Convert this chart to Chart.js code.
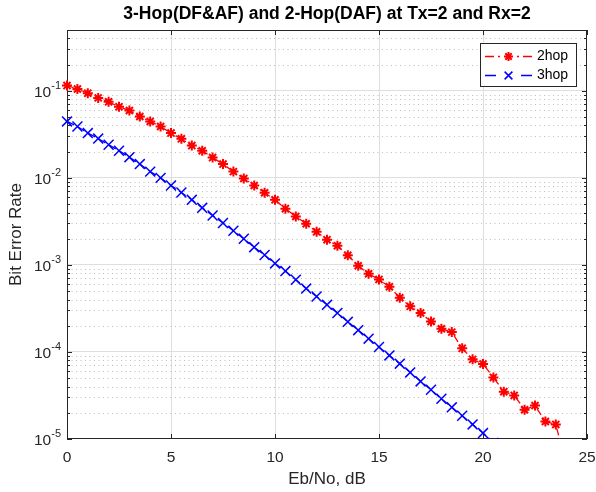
<!DOCTYPE html>
<html><head><meta charset="utf-8">
<script src="https://cdn.jsdelivr.net/npm/chart.js@4/dist/chart.umd.min.js"></script>
<style>html,body{margin:0;padding:0;background:#fff}#wrap{width:596px;height:492px;position:relative}</style>
</head><body><div id="wrap"><canvas id="c" width="596" height="492"></canvas></div>
<script>
const FONT = "'Liberation Sans', Arial, Helvetica, sans-serif";
const titleText = '3-Hop(DF&AF) and 2-Hop(DAF) at Tx=2 and Rx=2';
const xLabel = 'Eb/No, dB';
const yLabel = 'Bit Error Rate';
const seriesNames = ['2hop', '3hop'];

const ebno2hop = [0,0.5,1,1.5,2,2.5,3,3.5,4,4.5,5,5.5,6,6.5,7,7.5,8,8.5,9,9.5,10,10.5,11,11.5,12,12.5,13,13.5,14,14.5,15,15.5,16,16.5,17,17.5,18,18.5,19,19.5,20,20.5,21,21.5,22,22.5,23,23.5,24];
const ber2hop = [0.115,0.105,0.094,0.083,0.0748,0.0655,0.0594,0.0507,0.0445,0.0389,
  0.0327,0.0281,0.0235,0.0205,0.0171,0.0144,0.0118,0.00984,0.00818,0.00675,
  0.0056,0.00443,0.00361,0.00297,0.0024,0.00195,0.00166,0.00129,0.000978,0.000791,
  0.000681,0.000561,0.00042,0.000334,0.00028,0.000224,0.000185,0.000169,0.00011,0.0000822,
  0.0000728,0.000051,0.000035,0.0000317,0.0000217,0.0000242,0.0000159,0.0000147,0.000005];

const ebno3hop = [0,0.5,1,1.5,2,2.5,3,3.5,4,4.5,5,5.5,6,6.5,7,7.5,8,8.5,9,9.5,10,10.5,11,11.5,12,12.5,13,13.5,14,14.5,15,15.5,16,16.5,17,17.5,18,18.5,19,19.5,20,20.5];
const ber3hop = [0.0445,0.0389,0.0327,0.0283,0.024,0.0205,0.0173,0.0144,0.0118,0.01,
  0.00818,0.0068,0.0056,0.00453,0.0037,0.00303,0.00247,0.002,0.0016,0.0013,
  0.00104,0.00085,0.000676,0.000535,0.000434,0.000348,0.00028,0.000222,0.000178,0.000142,
  0.000114,0.0000912,0.0000733,0.0000582,0.0000459,0.0000368,0.000029,0.0000231,0.0000185,0.0000147,
  0.0000117,0.000009];

const xTickValues = [0,5,10,15,20,25];
const yTickValues = [1e-5,1e-4,1e-3,1e-2,1e-1];
const yTickBase = '10';
const yTickExponents = ['-5','-4','-3','-2','-1'];
const yMinorMultipliers = [2,3,4,5,6,7,8,9];

const AXIS_COLOR = '#262626';
const GRID_COLOR = '#dedede';
const MINOR_COLOR = '#bdbdbd';
const TICK_SIZE = 15.5;

function toPoints(xs, ys){ return xs.map((x,i)=>({x:x, y:ys[i]})); }

const styles = [
  {color:'#ff0000', dash:[7,3,2,3], point:'star', radius:5, pw:2,
   legendSegs:[[485,494],[498,500],[517,519],[523,532]]},
  {color:'#0000ff', dash:[8,4], point:'crossRot', radius:7, pw:1.5,
   legendSegs:[[485,496],[521,532]]}
];

function drawMarker(ctx, type, x, y, r){
  ctx.beginPath();
  if (type === 'star') {
    ctx.moveTo(x - r, y); ctx.lineTo(x + r, y);
    ctx.moveTo(x, y - r); ctx.lineTo(x, y + r);
  }
  const d = r * Math.SQRT1_2;
  ctx.moveTo(x - d, y - d); ctx.lineTo(x + d, y + d);
  ctx.moveTo(x - d, y + d); ctx.lineTo(x + d, y - d);
  ctx.stroke();
}

const axesPlugin = {
  id: 'matlabAxes',
  beforeDatasetsDraw(chart){
    const {ctx, chartArea: a, scales: {x, y}} = chart;
    ctx.save();
    ctx.strokeStyle = MINOR_COLOR; ctx.lineWidth = 1; ctx.setLineDash([1,3.5]);
    for (const e of yTickValues) {
      for (const m of yMinorMultipliers) {
        const v = m * e;
        if (v >= y.max) continue;
        const py = Math.round(y.getPixelForValue(v)) + 0.5;
        ctx.beginPath(); ctx.moveTo(a.left, py); ctx.lineTo(a.right, py); ctx.stroke();
      }
    }
    ctx.setLineDash([]);
    ctx.strokeStyle = AXIS_COLOR; ctx.lineWidth = 1;
    ctx.strokeRect(a.left + 0.5, a.top + 0.5, a.right - a.left - 1, a.bottom - a.top - 1);
    ctx.beginPath();
    for (const v of xTickValues) {
      const px = Math.round(x.getPixelForValue(v)) + 0.5;
      ctx.moveTo(px, a.bottom); ctx.lineTo(px, a.bottom - 5);
      ctx.moveTo(px, a.top); ctx.lineTo(px, a.top + 5);
    }
    for (const e of yTickValues) {
      const py = Math.round(y.getPixelForValue(e)) + 0.5;
      ctx.moveTo(a.left, py); ctx.lineTo(a.left + 5, py);
      ctx.moveTo(a.right, py); ctx.lineTo(a.right - 5, py);
      for (const m of yMinorMultipliers) {
        const v = m * e;
        if (v >= y.max) continue;
        const q = Math.round(y.getPixelForValue(v)) + 0.5;
        ctx.moveTo(a.left, q); ctx.lineTo(a.left + 3, q);
        ctx.moveTo(a.right, q); ctx.lineTo(a.right - 3, q);
      }
    }
    ctx.stroke();
    ctx.fillStyle = AXIS_COLOR;
    ctx.textAlign = 'left';
    yTickValues.forEach((v, i) => {
      const py = y.getPixelForValue(v);
      ctx.font = '11px ' + FONT;
      const ew = ctx.measureText(yTickExponents[i]).width;
      ctx.font = TICK_SIZE + 'px ' + FONT;
      const bw = ctx.measureText(yTickBase).width;
      const right = a.left - 6;
      ctx.textBaseline = 'middle';
      ctx.fillText(yTickBase, right - ew - bw, py + 2);
      ctx.font = '11px ' + FONT;
      ctx.fillText(yTickExponents[i], right - ew, py - 5);
    });
    ctx.restore();
  },
  afterDraw(chart){
    const ctx = chart.ctx;
    const bx = 480, by = 43, bw = 96, bh = 43;
    ctx.save();
    ctx.fillStyle = '#fff';
    ctx.fillRect(bx, by, bw, bh);
    ctx.strokeStyle = AXIS_COLOR; ctx.lineWidth = 1;
    ctx.strokeRect(bx + 0.5, by + 0.5, bw, bh);
    const rows = [56, 75];
    chart.data.datasets.forEach((ds, i) => {
      const st = styles[i];
      const yy = rows[i] + 0.5;
      ctx.strokeStyle = st.color; ctx.lineWidth = 1.3;
      ctx.beginPath();
      st.legendSegs.forEach(s => { ctx.moveTo(s[0], yy); ctx.lineTo(s[1], yy); });
      ctx.stroke();
      ctx.lineWidth = st.pw;
      drawMarker(ctx, st.point, 508.5, yy, st.point === 'star' ? 4.5 : 5.5);
      ctx.fillStyle = '#000';
      ctx.font = '14px ' + FONT;
      ctx.textBaseline = 'middle'; ctx.textAlign = 'left';
      ctx.fillText(ds.label, 537, yy);
    });
    ctx.restore();
  }
};

new Chart(document.getElementById('c'), {
  type: 'line',
  data: {
    datasets: [
      { label: seriesNames[0], data: toPoints(ebno2hop, ber2hop) },
      { label: seriesNames[1], data: toPoints(ebno3hop, ber3hop) }
    ].map((d, i) => Object.assign(d, {
      borderColor: styles[i].color, backgroundColor: styles[i].color,
      borderWidth: 1.3, borderDash: styles[i].dash,
      pointStyle: styles[i].point, pointRadius: styles[i].radius,
      pointBorderWidth: styles[i].pw, pointBorderColor: styles[i].color,
      pointBackgroundColor: styles[i].color, tension: 0,
      clip: {left: 8, top: 0, right: 0, bottom: 0}
    }))
  },
  options: {
    responsive: false, animation: false, devicePixelRatio: 1,
    layout: { padding: { left: 0, right: 0, top: 0, bottom: 0 } },
    plugins: {
      legend: { display: false },
      tooltip: { enabled: false },
      title: {
        display: true, text: titleText, color: '#000', fullSize: false,
        font: { family: FONT, size: 17.5, weight: 'bold', lineHeight: 1.2 },
        padding: { top: 3.5, bottom: 5.5 }
      }
    },
    scales: {
      x: {
        type: 'linear', min: 0, max: 25,
        afterBuildTicks: s => { s.ticks = xTickValues.map(v => ({value: v})); },
        afterFit: s => { s.height = 53; s.paddingRight = 9; s.paddingLeft = 0; },
        ticks: { color: AXIS_COLOR, font: { family: FONT, size: TICK_SIZE }, padding: 9, maxRotation: 0, autoSkip: false },
        grid: { drawTicks: false, color: c => (c.tick && c.tick.value > 0 && c.tick.value < 25) ? GRID_COLOR : 'rgba(0,0,0,0)' },
        border: { display: false },
        title: { display: true, text: xLabel, color: AXIS_COLOR, font: { family: FONT, size: 17 }, padding: { top: 0, bottom: 2 } }
      },
      y: {
        type: 'logarithmic', min: 1e-5, max: 0.5,
        afterBuildTicks: s => { s.ticks = yTickValues.map(v => ({value: v})); },
        afterFit: s => { s.width = 67; },
        ticks: { display: false },
        grid: { drawTicks: false, color: c => (c.tick && c.tick.value > 1e-5) ? GRID_COLOR : 'rgba(0,0,0,0)' },
        border: { display: false },
        title: { display: true, text: yLabel, color: AXIS_COLOR, font: { family: FONT, size: 17 }, padding: { top: 6, bottom: 0 } }
      }
    }
  },
  plugins: [axesPlugin]
});
</script>
</body></html>
